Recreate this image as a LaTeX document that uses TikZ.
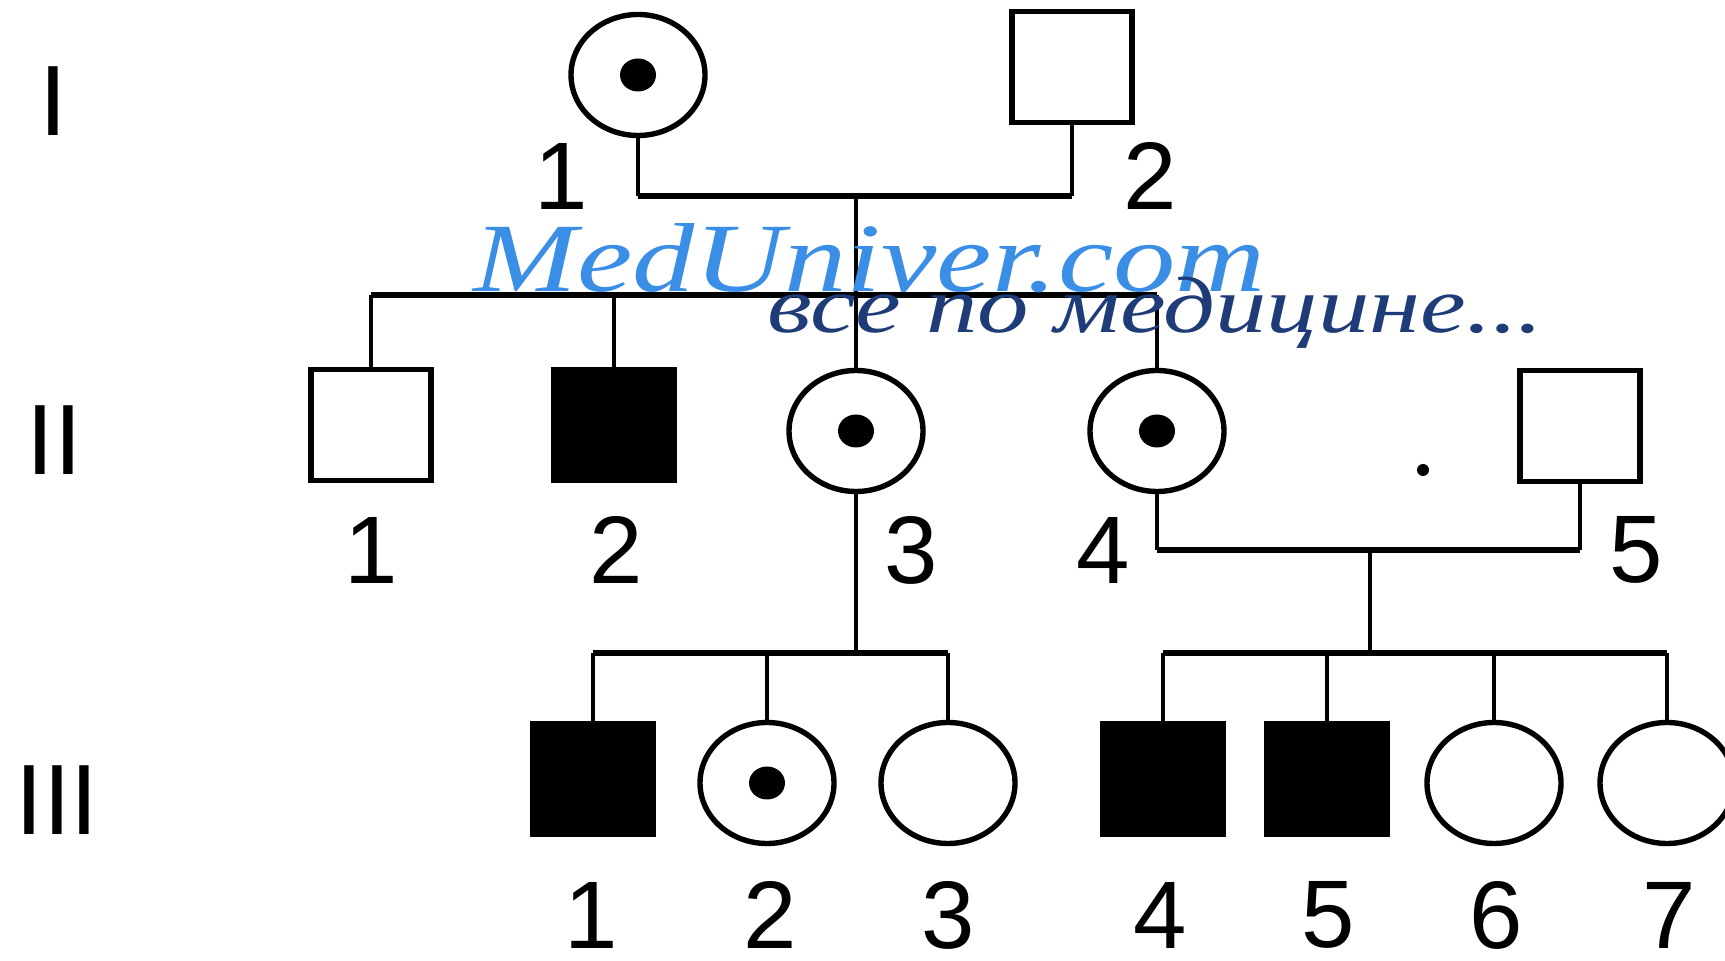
\documentclass[tikz,border=0pt]{standalone}
\usepackage{fontspec}
\setmainfont{Liberation Sans}
\newfontfamily\wmfont{Liberation Serif}
\usetikzlibrary{shapes.geometric}
\definecolor{wmblue}{HTML}{3A8EE6}
\definecolor{wmnavy}{HTML}{1E3C78}
\begin{document}
\begin{tikzpicture}[x=0.5pt,y=-0.5pt,
  male/.style={draw, rectangle, line width=2.7pt, minimum width=60pt, minimum height=55.5pt, inner sep=0pt, fill=white},
  affected/.style={male, fill=black},
  female/.style={draw, ellipse, line width=2.7pt, minimum width=67pt, minimum height=60.5pt, inner sep=0pt, fill=white},
  dotmark/.style={ellipse, fill=black, inner sep=0pt, minimum width=18pt, minimum height=16.5pt},
  speck/.style={circle, fill=black, inner sep=0pt, minimum size=6pt},
  lbl/.style={inner sep=0pt, font=\fontsize{48}{48}\selectfont},
  gen/.style={inner sep=0pt, font=\fontsize{50}{50}\selectfont},
  link/.style={line width=2.2pt},
  sib/.style={line width=3.2pt}]
\useasboundingbox (0,0) rectangle (1725,961);
\clip (0,0) rectangle (1725,961);
\fill[white] (0,0) rectangle (1725,961);

% junction coordinates
\coordinate (m1) at (856,196);
\coordinate (s2) at (856,295);
\coordinate (m2) at (1370,550);
\coordinate (s3r) at (1370,653);
\coordinate (s3l) at (856,653);

% generation I
\node[female] (I1) at (638,75) {};
\node[dotmark] (I1d) at (I1) {};
\node[male] (I2) at (1072,67) {};

% generation II
\node[male] (II1) at (371,425) {};
\node[affected] (II2) at (614,425) {};
\node[female] (II3) at (856,431) {};
\node[dotmark] (II3d) at (II3) {};
\node[female] (II4) at (1157,431) {};
\node[dotmark] (II4d) at (II4) {};
\node[male] (II5) at (1580,426) {};
\node[speck] (sp) at (1423,470) {};

% generation III
\node[affected] (III1) at (593,779) {};
\node[female] (III2) at (767,783) {};
\node[dotmark] (III2d) at (III2) {};
\node[female] (III3) at (948,783) {};
\node[affected] (III4) at (1163,779) {};
\node[affected] (III5) at (1327,779) {};
\node[female] (III6) at (1494,783) {};
\node[female] (III7) at (1667,783) {};

% connectors
\draw[link] (I1.south) -- (I1.south |- m1);
\draw[link] (I2.south) -- (I2.south |- m1);
\draw[sib] (I1.south |- m1) -- (I2.south |- m1);
\draw[link] (m1) -- (s2);
\draw[sib] (II1.north |- s2) -- (II4.north |- s2);
\foreach \c in {II1,II2,II3,II4} \draw[link] (\c.north) -- (\c.north |- s2);

\draw[link] (II4.south) -- (II4.south |- m2);
\draw[link] (II5.south) -- (II5.south |- m2);
\draw[sib] (II4.south |- m2) -- (II5.south |- m2);
\draw[link] (m2) -- (s3r);
\draw[sib] (III4.north |- s3r) -- (III7.north |- s3r);
\foreach \c in {III4,III5,III6,III7} \draw[link] (\c.north) -- (\c.north |- s3r);

\draw[link] (II3.south) -- (s3l);
\draw[sib] (III1.north |- s3l) -- (III3.north |- s3l);
\foreach \c in {III1,III2,III3} \draw[link] (\c.north) -- (\c.north |- s3l);

% generation numerals
\node[gen] (gI) at (53,101) {I};
\node[gen] (gII) at (54,440) {II};
\node[gen] (gIII) at (57,800) {III};

% labels
\node[lbl] (lI1) at (561,176) {1};
\node[lbl] (lI2) at (1150,176) {2};
\node[lbl] (lII1) at (371,550) {1};
\node[lbl] (lII2) at (616,550) {2};
\node[lbl] (lII3) at (911,550) {3};
\node[lbl] (lII4) at (1103,550) {4};
\node[lbl] (lII5) at (1636,550) {5};
\node[lbl] (lIII1) at (591,915) {1};
\node[lbl] (lIII2) at (770,915) {2};
\node[lbl] (lIII3) at (948,915) {3};
\node[lbl] (lIII4) at (1160,915) {4};
\node[lbl] (lIII5) at (1328,915) {5};
\node[lbl] (lIII6) at (1496,915) {6};
\node[lbl] (lIII7) at (1669,915) {7};

% watermark
\node[anchor=base west, inner sep=0pt, text=wmblue] (wm1) at (473,292)
  {\resizebox{396pt}{\height}{\fontsize{49}{49}\selectfont\wmfont\itshape MedUniver.com}};
\node[anchor=base west, inner sep=0pt, text=wmnavy] (wm2) at (767,333)
  {\resizebox{388pt}{\height}{\fontsize{40}{40}\selectfont\wmfont\itshape все по медицине...}};
\end{tikzpicture}
\end{document}
